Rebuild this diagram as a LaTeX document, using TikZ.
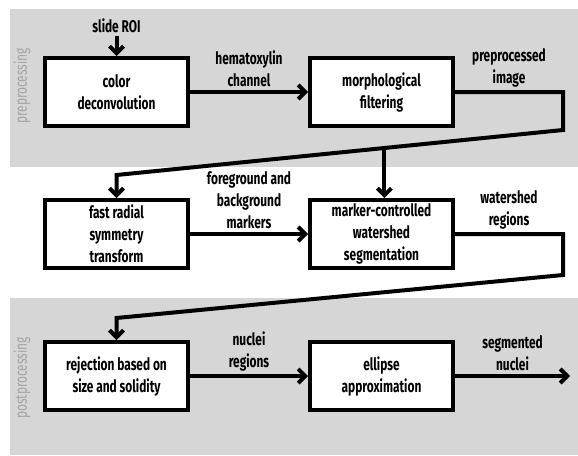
\documentclass[tikz,border=0pt]{standalone}
\usepackage{fontspec}
\setmainfont{Fira Sans}[FakeStretch=0.7]
\usetikzlibrary{arrows.meta, positioning}
\definecolor{band}{HTML}{D6D6D6}
\definecolor{side}{HTML}{A4A4A4}

\begin{document}
\begin{tikzpicture}[x=1pt, y=-1pt, font=\fontsize{17}{22}\selectfont\bfseries,
    node distance=70pt and 118pt,
    proc/.style={draw=black, line width=4pt, fill=white, minimum width=143pt,
                 minimum height=68pt, inner sep=2pt, align=center},
    flow/.style={line width=4pt, -{Straight Barb[length=7pt, width=14pt]}},
    lbl/.style={align=center, inner sep=3pt},
    sidelbl/.style={rotate=90, text=side, font=\fontsize{17}{22}\selectfont}]
  \useasboundingbox (0,0) rectangle (578,455);
  % shaded bands
  \fill[band] (10,9) rectangle (578,167);
  \fill[band] (10,298) rectangle (578,455);
  \node[sidelbl] (pre) at (22,86) {preprocessing};
  \node[sidelbl] (post) at (22,378) {postprocessing};

  \node[proc] (b1) at (116.5,92) {color\\deconvolution};
  \node[proc, right=of b1] (b2) {morphological\\filtering};
  \node[proc, below=of b1] (b3) {fast radial\\symmetry\\transform};
  \node[proc, right=of b3] (b4) {marker-controlled\\watershed\\segmentation};
  \node[proc, below=of b3] (b5) {rejection based on\\size and solidity};
  \node[proc, right=of b5] (b6) {ellipse\\approximation};
  \node[above=20pt of b1] (roi) {slide ROI};

  % bends of the long connectors
  \coordinate (r1) at (563,130);
  \coordinate (r2) at (b3.north |- 0,175);
  \coordinate (r3) at (563,275);
  \coordinate (r4) at (b5.north |- 0,318);
  \coordinate[right=115pt of b6.east] (out);
  \path (r1) -- (r2) coordinate[pos=0.4] (j1);

  \draw[flow] (roi) -- (b1);
  \draw[flow] (b1) -- node[lbl, above] {hematoxylin\\channel} (b2);
  \draw[flow] (b2.east) -- node[lbl, above] {preprocessed\\image} (b2.east -| r1)
    -- (r1) -- (r2) -- (b3.north);
  \draw[flow] (j1) -- (j1 |- b4.north);
  \draw[flow] (b3) -- node[lbl, above] {foreground and\\background\\markers} (b4);
  \draw[flow] (b4.east) -- node[lbl, above] {watershed\\regions} (b4.east -| r3)
    -- (r3) -- (r4) -- (b5.north);
  \draw[flow] (b5) -- node[lbl, above] {nuclei\\regions} (b6);
  \draw[flow] (b6) -- node[lbl, above] {segmented\\nuclei} (out);
\end{tikzpicture}
\end{document}
